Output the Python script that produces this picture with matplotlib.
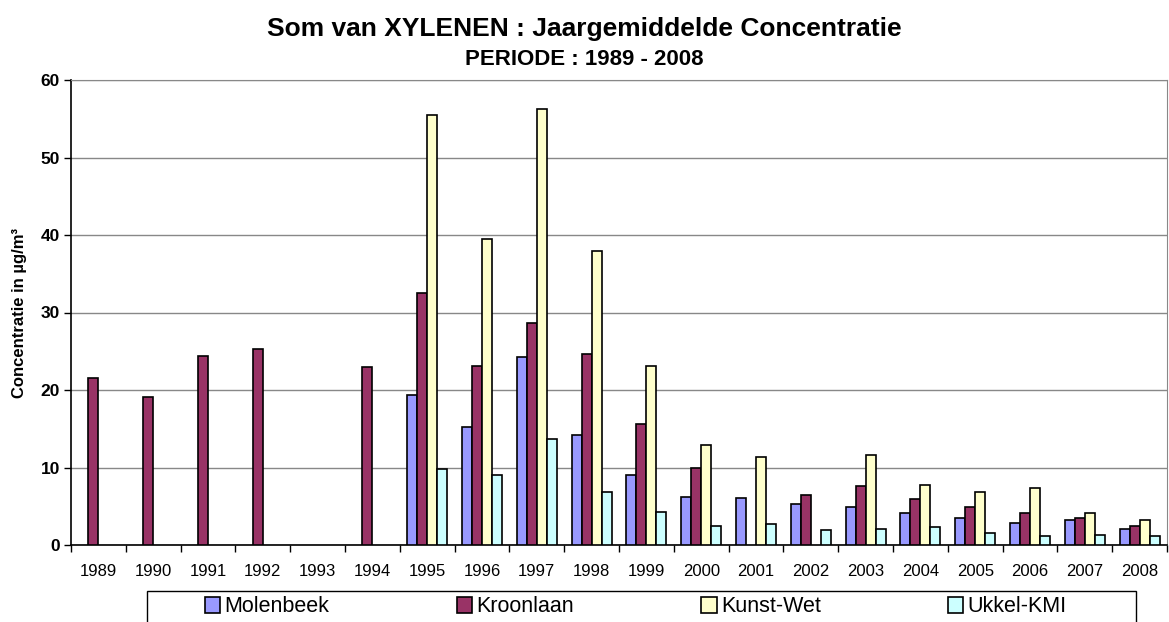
import numpy as np
import matplotlib.pyplot as plt
from matplotlib.patches import Rectangle, Patch

plt.rcParams['font.family'] = ['Liberation Sans', 'DejaVu Sans']

years = [str(y) for y in range(1989, 2009)]
nan = np.nan

# jaargemiddelden in ug/m3
molenbeek = [nan, nan, nan, nan, nan, nan, 19.4, 15.2, 24.3, 14.2,
             9.0, 6.2, 6.1, 5.3, 4.9, 4.1, 3.5, 2.8, 3.2, 2.1]
kroonlaan = [21.5, 19.1, 24.4, 25.3, nan, 23.0, 32.5, 23.1, 28.7, 24.7,
             15.6, 10.0, nan, 6.4, 7.6, 6.0, 4.9, 4.1, 3.5, 2.5]
kunst_wet = [nan, nan, nan, nan, nan, nan, 55.5, 39.5, 56.2, 37.9,
             23.1, 12.9, 11.35, nan, 11.6, 7.8, 6.8, 7.4, 4.1, 3.2]
ukkel_kmi = [nan, nan, nan, nan, nan, nan, 9.75, 9.0, 13.7, 6.8,
             4.3, 2.5, 2.66, 1.9, 2.1, 2.3, 1.5, 1.2, 1.3, 1.1]

series = [("Molenbeek", molenbeek, "#9999FF"),
          ("Kroonlaan", kroonlaan, "#993366"),
          ("Kunst-Wet", kunst_wet, "#FFFFCC"),
          ("Ukkel-KMI", ukkel_kmi, "#CCFFFF")]

W, H = 1169, 622
fig = plt.figure(figsize=(W / 100, H / 100), dpi=100)
ax = fig.add_axes([71 / W, 1 - 545 / H, (1167 - 71) / W, (545 - 80) / H])

x = np.arange(len(years))
bw = 0.183
for i, (name, vals, col) in enumerate(series):
    ax.bar(x + (i - 1.5) * bw, vals, bw, color=col, edgecolor="black",
           linewidth=1.2, zorder=3)

ax.set_xlim(-0.5, len(years) - 0.5)
ax.set_ylim(0, 60)
ax.set_yticks(range(0, 61, 10))
ax.yaxis.grid(True, color="#888888", linewidth=1.0, zorder=0)

ax.set_xticks(x)
ax.set_xticklabels(years, fontsize=12)
ax.set_xticks(np.arange(-0.5, len(years)), minor=True)
ax.tick_params(axis="x", which="major", length=0, pad=14)
ax.tick_params(axis="x", which="minor", length=5, direction="out", width=1)
ax.tick_params(axis="y", length=5, direction="out", width=1, labelsize=12.5,
               pad=3)
for lab in ax.get_yticklabels():
    lab.set_fontweight("bold")

for s in ["top", "right"]:
    ax.spines[s].set_color("#888888")
for s in ["left", "bottom"]:
    ax.spines[s].set_color("black")
    ax.spines[s].set_linewidth(1.2)

ax.set_ylabel("Concentratie in µg/m³", fontsize=12, fontweight="bold",
              labelpad=10)

fig.text(0.5, 1 - 36 / H, "Som van XYLENEN : Jaargemiddelde Concentratie",
         ha="center", va="baseline", fontsize=19, fontweight="bold")
fig.text(0.5, 1 - 65 / H, "PERIODE : 1989 - 2008",
         ha="center", va="baseline", fontsize=16, fontweight="bold")

# legendekader loopt onderaan uit beeld
fig.patches.append(Rectangle((147 / W, -0.05), (1136 - 147) / W,
                             0.05 + 1 - 591 / H, transform=fig.transFigure,
                             facecolor="white", edgecolor="black",
                             linewidth=1.0))
handles = [Patch(facecolor=c, edgecolor="black", linewidth=1.2, label=n)
           for n, _, c in series]
fig.legend(handles=handles, loc="center", ncol=4, mode="expand",
           bbox_to_anchor=(186 / W, 1 - 622 / H, (1086 - 186) / W, 30 / H),
           frameon=False, fontsize=15.5, handlelength=0.7, handleheight=0.7,
           handletextpad=0.2)

fig.savefig("out.png", dpi=100)
